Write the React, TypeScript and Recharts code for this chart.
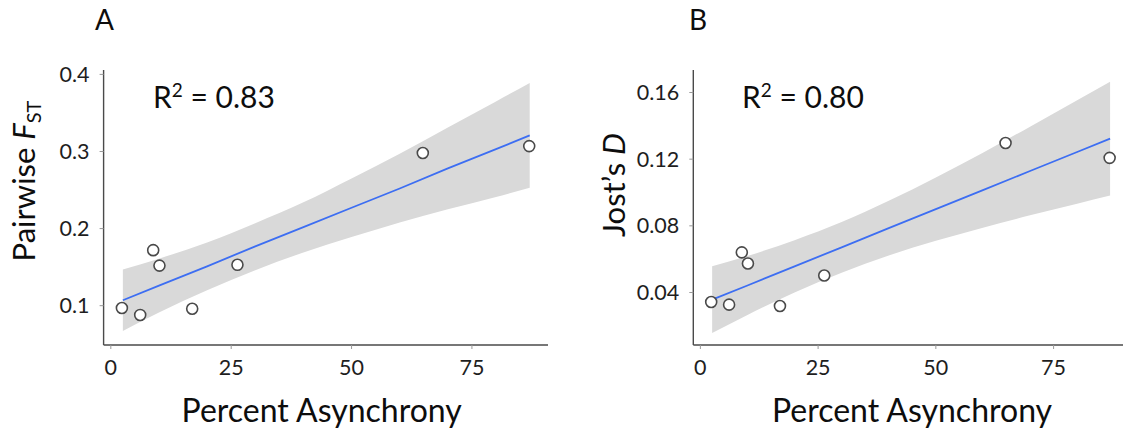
import { Area, ComposedChart, Line, Scatter, XAxis, YAxis } from "recharts";

// percent asynchrony for each population pair (same pairs in both panels)
const asynchrony = [2.3, 6.1, 8.8, 10.1, 16.9, 26.3, 64.8, 86.9];
const fstValues = [0.097, 0.088, 0.172, 0.152, 0.096, 0.153, 0.298, 0.307];
const jostValues = [0.0343, 0.0327, 0.0641, 0.0574, 0.0319, 0.0502, 0.1297, 0.1208];

// fitted line and confidence band
const bandX = [2.5, 10, 20, 30, 40, 50, 60, 70, 80, 87];
const fstFit = [0.107, 0.126, 0.151, 0.177, 0.202, 0.227, 0.252, 0.278, 0.303, 0.321];
const fstLower = [0.067, 0.091, 0.12, 0.146, 0.169, 0.189, 0.208, 0.225, 0.241, 0.253];
const fstUpper = [0.147, 0.161, 0.182, 0.207, 0.234, 0.265, 0.297, 0.331, 0.365, 0.389];
const jostFit = [0.0357, 0.0442, 0.0557, 0.0671, 0.0786, 0.09, 0.1014, 0.1129, 0.1243, 0.1323];
const jostLower = [0.0157, 0.0265, 0.04, 0.0519, 0.0622, 0.071, 0.0789, 0.0863, 0.0933, 0.0982];
const jostUpper = [0.0557, 0.0619, 0.0714, 0.0823, 0.095, 0.109, 0.1239, 0.1395, 0.1553, 0.1664];

const xTicks = [0, 25, 50, 75];
const fstTicks = [0.1, 0.2, 0.3, 0.4];
const jostTicks = [0.04, 0.08, 0.12, 0.16];

const FONT = "Lato, 'Open Sans', sans-serif";
const X_DOMAIN: [number, number] = [-1.5, 90.8];

const toPoints = (ys: number[]) => asynchrony.map((x, i) => ({ x, y: ys[i] }));
const toBand = (fit: number[], lo: number[], hi: number[]) =>
  bandX.map((x, i) => ({ x, fit: fit[i], band: [lo[i], hi[i]] }));

interface PanelProps {
  width: number;
  rightMargin: number;
  yAxisWidth: number;
  yDomain: [number, number];
  yTicks: number[];
  points: { x: number; y: number }[];
  band: { x: number; fit: number; band: number[] }[];
}

function Panel({ width, rightMargin, yAxisWidth, yDomain, yTicks, points, band }: PanelProps) {
  const tickStyle = { fontSize: 21.5, fontFamily: FONT, fill: "#1e1e1e" };
  return (
    <ComposedChart
      width={width}
      height={430}
      data={band}
      margin={{ top: 70, right: rightMargin, bottom: 0, left: 0 }}
    >
      <XAxis
        type="number"
        dataKey="x"
        domain={X_DOMAIN}
        ticks={xTicks}
        allowDataOverflow
        height={85}
        tick={tickStyle}
        tickSize={4}
        tickMargin={11}
        axisLine={{ stroke: "#4a4a4a", strokeWidth: 1.4 }}
        tickLine={{ stroke: "#999" }}
      />
      <YAxis
        type="number"
        domain={yDomain}
        ticks={yTicks}
        allowDataOverflow
        width={yAxisWidth}
        tick={tickStyle}
        tickSize={4}
        tickMargin={10}
        axisLine={{ stroke: "#4a4a4a", strokeWidth: 1.4 }}
        tickLine={{ stroke: "#999" }}
      />
      <Area
        dataKey="band"
        type="monotone"
        stroke="none"
        fill="#d9d9d9"
        fillOpacity={1}
        isAnimationActive={false}
      />
      <Line
        dataKey="fit"
        type="linear"
        stroke="#3d6ef2"
        strokeWidth={1.8}
        dot={false}
        isAnimationActive={false}
      />
      <Scatter
        data={points}
        dataKey="y"
        isAnimationActive={false}
        shape={(p: any) => (
          <circle cx={p.cx} cy={p.cy} r={5.5} fill="#fff" stroke="#4a4a4a" strokeWidth={1.6} />
        )}
      />
    </ComposedChart>
  );
}

export default function App() {
  const textProps = { fontFamily: FONT, fill: "#0d0d0d" };
  return (
    <div
      style={{
        position: "fixed",
        left: 0,
        top: 0,
        width: 1123,
        height: 430,
        overflow: "hidden",
        background: "#fff",
      }}
    >
      <div style={{ position: "absolute", left: 0, top: 0 }}>
        <Panel
          width={560}
          rightMargin={12}
          yAxisWidth={103.6}
          yDomain={[0.049, 0.4057]}
          yTicks={fstTicks}
          points={toPoints(fstValues)}
          band={toBand(fstFit, fstLower, fstUpper)}
        />
      </div>
      <div style={{ position: "absolute", left: 590, top: 0 }}>
        <Panel
          width={548}
          rightMargin={10}
          yAxisWidth={103.3}
          yDomain={[0.0085, 0.1735]}
          yTicks={jostTicks}
          points={toPoints(jostValues)}
          band={toBand(jostFit, jostLower, jostUpper)}
        />
      </div>
      <svg
        width={1123}
        height={430}
        style={{ position: "absolute", left: 0, top: 0, pointerEvents: "none" }}
      >
        <text x={104.5} y={30} textAnchor="middle" fontSize={28} {...textProps}>A</text>
        <text x={698} y={30} textAnchor="middle" fontSize={28} {...textProps}>B</text>

        <text x={153} y={108} fontSize={30} {...textProps}>
          R<tspan fontSize={19} dy={-11}>2</tspan>
          <tspan dy={11}> = 0.83</tspan>
        </text>
        <text x={742} y={108} fontSize={30} {...textProps}>
          R<tspan fontSize={19} dy={-11}>2</tspan>
          <tspan dy={11}> = 0.80</tspan>
        </text>

        <text x={321.7} y={421.7} textAnchor="middle" fontSize={32} {...textProps}>
          Percent Asynchrony
        </text>
        <text x={912} y={421.7} textAnchor="middle" fontSize={32} {...textProps}>
          Percent Asynchrony
        </text>

        <text transform="translate(35,181) rotate(-90)" textAnchor="middle" fontSize={31} {...textProps}>
          Pairwise <tspan fontStyle="italic">F</tspan>
          <tspan fontSize={20} dy={6}>ST</tspan>
        </text>
        <text transform="translate(625,185) rotate(-90)" textAnchor="middle" fontSize={31} {...textProps}>
          Jost’s <tspan fontStyle="italic">D</tspan>
        </text>
      </svg>
    </div>
  );
}
